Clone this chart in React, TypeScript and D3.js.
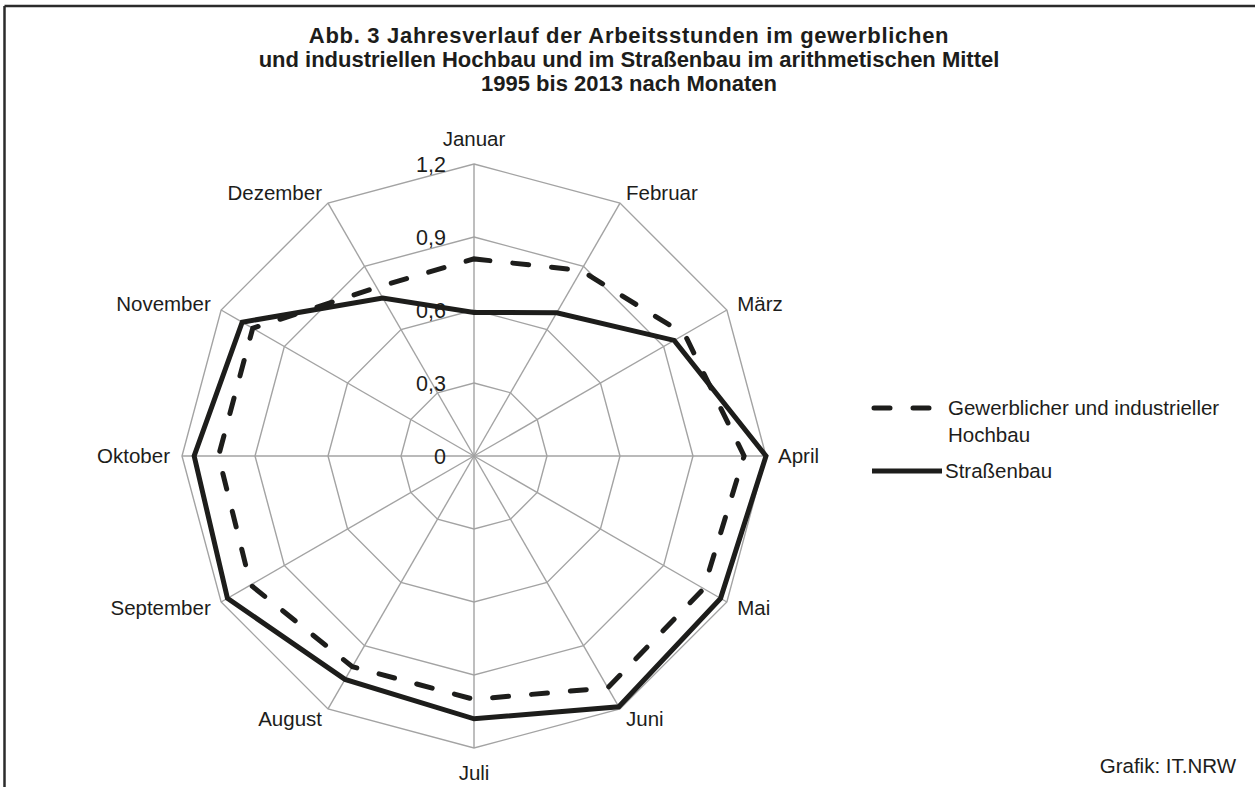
import React, { useEffect, useRef } from "react";
import * as d3 from "d3";

const WIDTH = 1255;
const HEIGHT = 787;
const CENTER_X = 474;
const CENTER_Y = 456;
const RADIUS = 292;

const months = [
  "Januar", "Februar", "März", "April", "Mai", "Juni",
  "Juli", "August", "September", "Oktober", "November", "Dezember",
];
const hochbau = [0.81, 0.88, 1.0, 1.11, 1.09, 1.1, 1.0, 1.0, 1.06, 1.05, 1.05, 0.8];
const strassenbau = [0.59, 0.68, 0.95, 1.2, 1.17, 1.19, 1.08, 1.06, 1.17, 1.15, 1.1, 0.75];

const tickValues = [0, 0.3, 0.6, 0.9, 1.2];
const tickLabels = ["0", "0,3", "0,6", "0,9", "1,2"];

const titleLines = [
  "Abb. 3 Jahresverlauf der Arbeitsstunden im gewerblichen",
  "und industriellen Hochbau und im Straßenbau im arithmetischen Mittel",
  "1995 bis 2013 nach Monaten",
];
const legendLabels = [["Gewerblicher und industrieller", "Hochbau"], ["Straßenbau"]];

const FONT = "'Liberation Sans', Arial, Helvetica, sans-serif";
const GRID = "#a3a3a3";
const INK = "#1d1d1b";
const DASH = "16 23";

const App = () => {
  const svgRef = useRef<SVGSVGElement>(null);

  useEffect(() => {
    const svg = d3.select(svgRef.current);
    svg.selectAll("*").remove();

    const rScale = d3.scaleLinear().domain([0, 1.2]).range([0, RADIUS]);
    const angle = d3
      .scaleLinear()
      .domain([0, months.length])
      .range([0, 2 * Math.PI]);

    // frame (top + left edge only visible)
    svg.append("line").attr("x1", 4.5).attr("x2", WIDTH).attr("y1", 6).attr("y2", 6)
      .attr("stroke", "#2b2b2b").attr("stroke-width", 2.5);
    svg.append("line").attr("x1", 4.5).attr("x2", 4.5).attr("y1", 6).attr("y2", HEIGHT)
      .attr("stroke", "#2b2b2b").attr("stroke-width", 2.5);

    // title
    svg.append("g")
      .selectAll("text")
      .data(titleLines)
      .join("text")
      .attr("x", 629)
      .attr("y", (d, i) => 43 + i * 24)
      .attr("text-anchor", "middle")
      .attr("font-family", FONT)
      .attr("font-weight", "bold")
      .attr("font-size", 22)
      .attr("letter-spacing", (d, i) => (i === 0 ? 0.7 : 0))
      .attr("fill", INK)
      .text((d) => d);

    const chart = svg.append("g").attr("transform", `translate(${CENTER_X},${CENTER_Y})`);

    const pointAt = (i: number, r: number): [number, number] => [
      r * Math.sin(angle(i)),
      -r * Math.cos(angle(i)),
    ];

    // grid rings
    chart.append("g")
      .selectAll("polygon")
      .data(tickValues.filter((v) => v > 0))
      .join("polygon")
      .attr("points", (v) => months.map((m, i) => pointAt(i, rScale(v)).join(",")).join(" "))
      .attr("fill", "none")
      .attr("stroke", GRID)
      .attr("stroke-width", 1.4);

    // spokes
    chart.append("g")
      .selectAll("line")
      .data(months)
      .join("line")
      .attr("x1", 0)
      .attr("y1", 0)
      .attr("x2", (m, i) => pointAt(i, rScale(1.2))[0])
      .attr("y2", (m, i) => pointAt(i, rScale(1.2))[1])
      .attr("stroke", GRID)
      .attr("stroke-width", 1.4);

    // tick labels
    chart.append("g")
      .selectAll("text")
      .data(tickValues)
      .join("text")
      .attr("x", -28)
      .attr("y", (v) => -rScale(v) + 8)
      .attr("text-anchor", "end")
      .attr("font-family", FONT)
      .attr("font-size", 21.5)
      .attr("fill", INK)
      .text((v, i) => tickLabels[i]);

    // month labels
    chart.append("g")
      .selectAll("text")
      .data(months)
      .join("text")
      .each(function (m, i) {
        const s = Math.sin(angle(i));
        const c = Math.cos(angle(i));
        const [x, y] = pointAt(i, rScale(1.2) + 12);
        const vertical = Math.abs(s) < 0.01;
        d3.select(this)
          .attr("x", x)
          .attr("y", y + 7 - (vertical ? 13 * c : 0))
          .attr("text-anchor", vertical ? "middle" : s > 0 ? "start" : "end");
      })
      .attr("font-family", FONT)
      .attr("font-size", 20.5)
      .attr("fill", INK)
      .text((m) => m);

    // series
    const radial = d3
      .lineRadial<number>()
      .angle((d, i) => angle(i))
      .radius((d) => rScale(d))
      .curve(d3.curveLinearClosed);

    chart.append("path")
      .datum(strassenbau)
      .attr("d", radial)
      .attr("fill", "none")
      .attr("stroke", INK)
      .attr("stroke-width", 5)
      .attr("stroke-linejoin", "miter");

    chart.append("path")
      .datum(hochbau)
      .attr("d", radial)
      .attr("fill", "none")
      .attr("stroke", INK)
      .attr("stroke-width", 5)
      .attr("stroke-linecap", "round")
      .attr("stroke-dasharray", DASH);

    // legend
    const legend = svg.append("g");
    legend.append("line")
      .attr("x1", 874).attr("x2", 932).attr("y1", 408).attr("y2", 408)
      .attr("stroke", INK).attr("stroke-width", 5)
      .attr("stroke-linecap", "round").attr("stroke-dasharray", DASH);
    legend.append("text")
      .attr("font-family", FONT).attr("font-size", 20.5).attr("fill", INK)
      .selectAll("tspan")
      .data(legendLabels[0])
      .join("tspan")
      .attr("x", 948)
      .attr("y", (d, i) => 415 + i * 27)
      .text((d) => d);
    legend.append("line")
      .attr("x1", 872).attr("x2", 942).attr("y1", 471).attr("y2", 471)
      .attr("stroke", INK).attr("stroke-width", 5);
    legend.append("text")
      .attr("x", 945).attr("y", 478)
      .attr("font-family", FONT).attr("font-size", 20.5).attr("fill", INK)
      .text(legendLabels[1][0]);

    svg.append("text")
      .attr("x", 1236).attr("y", 773)
      .attr("text-anchor", "end")
      .attr("font-family", FONT).attr("font-size", 20.5).attr("fill", INK)
      .text("Grafik: IT.NRW");
  }, []);

  return (
    <svg
      ref={svgRef}
      width={WIDTH}
      height={HEIGHT}
      style={{ position: "absolute", left: 0, top: 0, background: "#fff" }}
    />
  );
};

export default App;
